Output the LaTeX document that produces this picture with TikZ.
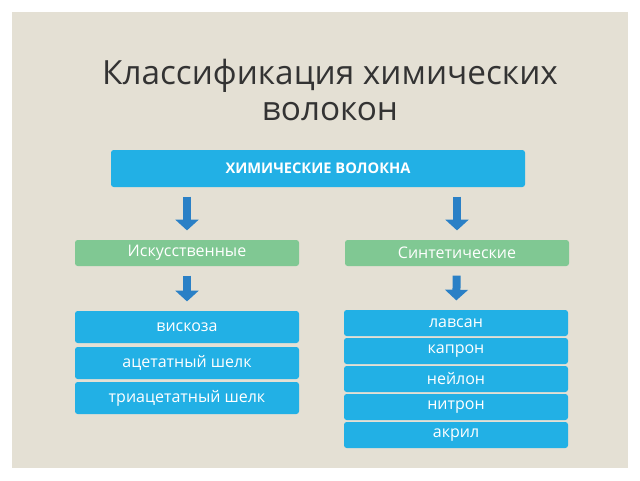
\documentclass[tikz,border=0pt]{standalone}
\usepackage{fontspec}
\setmainfont{Open Sans}
\usetikzlibrary{arrows.meta}
\definecolor{slide}{HTML}{E4E0D4}
\definecolor{skyblue}{HTML}{22B0E5}
\definecolor{leaf}{HTML}{80C893}
\definecolor{arrowblue}{HTML}{2A80C6}
\begin{document}
\begin{tikzpicture}
        [
            x=0.75pt,y=-0.75pt,
            box/.style={rectangle,rounded corners=2pt,fill=skyblue,text=white,minimum width=168pt,minimum height=#1,inner sep=0pt,font=\fontsize{12}{12}\selectfont},
            box/.default=24pt,
            group/.style={box=19.5pt,fill=leaf},
            down/.style={arrowblue,line width=6pt,-{Triangle[width=17pt,length=8pt]},shorten <=7pt,shorten >=7pt},
        ]
    \fill[white] (0,0) rectangle (640,480);
    \fill[slide] (12,12) rectangle (628,468);
    \node[align=center,font=\fontsize{25}{27}\selectfont,text=black!80] (title) at (330,90){Классификация химических\\волокон};
    \node[box=27.75pt,minimum width=310.5pt,font=\fontsize{11}{11}\bfseries\selectfont] (chem) at (318,168.5){ХИМИЧЕСКИЕ ВОЛОКНА};
    \node[group] (art) at (187,253){Искусственные};
    \node[group] (syn) at (457,253){Синтетические};
    % left column
    \node[box] (visc) at (187,327){вискоза};
    \node[box] (acet) at (187,363){ацетатный шелк};
    \node[box] (triac) at (187,398){триацетатный шелк};
    % right column
    \foreach \name/\label/\y in {lav/лавсан/323, kap/капрон/351, nyl/нейлон/379, nit/нитрон/407, akr/акрил/435}
        \node[box=19.5pt] (\name) at (456,\y){\label};
    \draw[down] (chem.south -| art) -- (art.north);
    \draw[down] (chem.south -| syn) -- (syn.north);
    \draw[down] (art) -- (visc);
    \draw[down] (syn) -- (lav);
\end{tikzpicture}
\end{document}
